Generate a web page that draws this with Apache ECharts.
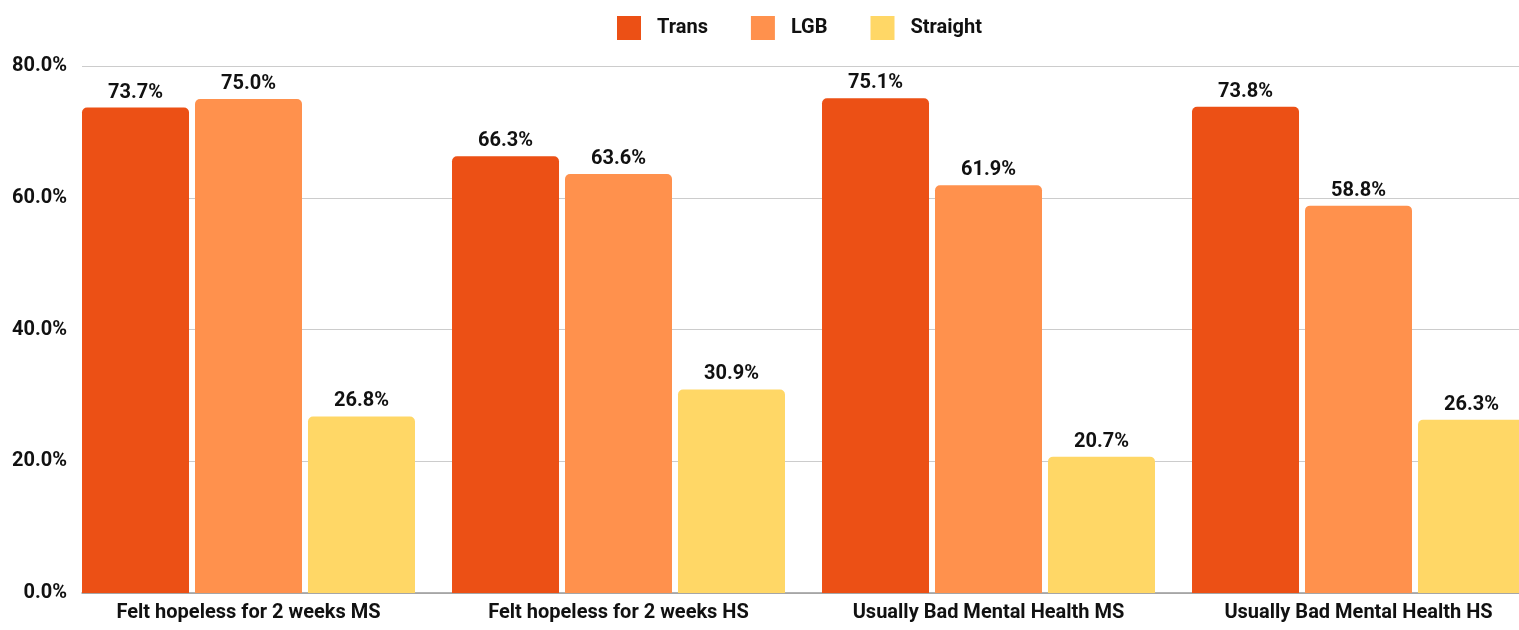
<!DOCTYPE html>
<html>
<head>
<meta charset="UTF-8">
<title>Mental health by orientation</title>
<script src="https://cdn.jsdelivr.net/npm/echarts@6/dist/echarts.min.js"></script>
<style>
  html, body { margin: 0; padding: 0; background: #fff; overflow: hidden; }
</style>
</head>
<body>
    <!-- the chart is a bit wider than the window: the last group runs past the right edge -->
    <div id="main" style="width: 1562px;height:630px;"></div>

    <script type="text/javascript">
        // data
        var categories = ['Felt hopeless for 2 weeks MS', 'Felt hopeless for 2 weeks HS',
                          'Usually Bad Mental Health MS', 'Usually Bad Mental Health HS'];
        var trans    = [73.7, 66.3, 75.1, 73.8];
        var lgb      = [75.0, 63.6, 61.9, 58.8];
        var straight = [26.8, 30.9, 20.7, 26.3];
        var yTicks   = [0, 20, 40, 60, 80];

        var font = 'Roboto';
        var ink = '#111';

        function pct(v) { return v.toFixed(1) + '%'; }

        function barSeries(name, data, color) {
            return {
                name: name,
                type: 'bar',
                xAxisIndex: 1,
                yAxisIndex: 1,
                data: data,
                barWidth: 107,
                barGap: '5.6%',
                itemStyle: { color: color, borderRadius: [5, 5, 0, 0] },
                label: {
                    show: true,
                    position: 'top',
                    distance: 5,
                    formatter: function (p) { return pct(p.value); },
                    color: ink,
                    fontFamily: font,
                    fontWeight: 'bold',
                    fontSize: 20
                }
            };
        }

        var myChart = echarts.init(document.getElementById('main'));

        var option = {
            backgroundColor: '#fff',
            animation: false,
            legend: {
                left: 612,
                top: 11,
                itemWidth: 24,
                itemHeight: 24,
                itemGap: 43,
                icon: 'rect',
                itemStyle: { borderRadius: 2 },
                textStyle: {
                    color: ink, fontFamily: font, fontWeight: 'bold', fontSize: 20,
                    padding: [0, 0, 0, 11]
                },
                data: ['Trans', 'LGB', 'Straight']
            },
            // grid 0 carries the gridlines, grid 1 the bars (groups sit flush with the gridline start)
            grid: [
                { left: 82, right: 0, top: 66, bottom: 37 },
                { left: 63.5, width: 1480, top: 66, bottom: 37 }
            ],
            xAxis: [
                {
                    gridIndex: 0, type: 'value', min: 0, max: 1,
                    axisLabel: { show: false }, axisTick: { show: false },
                    splitLine: { show: false },
                    axisLine: { show: true, lineStyle: { color: '#999', width: 1.5 } }
                },
                {
                    gridIndex: 1, type: 'category', data: categories,
                    axisLine: { show: false }, axisTick: { show: false },
                    axisLabel: {
                        margin: 10, color: ink, fontFamily: font,
                        fontWeight: 'bold', fontSize: 20
                    }
                }
            ],
            yAxis: [
                {
                    gridIndex: 0, type: 'value', min: yTicks[0], max: yTicks[yTicks.length - 1],
                    interval: 20,
                    axisLine: { show: false }, axisTick: { show: false },
                    axisLabel: {
                        margin: 15, color: ink, fontFamily: font,
                        fontWeight: 'bold', fontSize: 20,
                        formatter: function (v) { return pct(v); }
                    },
                    splitLine: { lineStyle: { color: '#ccc', width: 1 } }
                },
                {
                    gridIndex: 1, type: 'value', min: 0, max: 80, show: false,
                    splitLine: { show: false }
                }
            ],
            series: [
                barSeries('Trans', trans, '#EC5015'),
                barSeries('LGB', lgb, '#FF914D'),
                barSeries('Straight', straight, '#FFD766')
            ]
        };
        myChart.setOption(option);
    </script>
</body>
</html>
